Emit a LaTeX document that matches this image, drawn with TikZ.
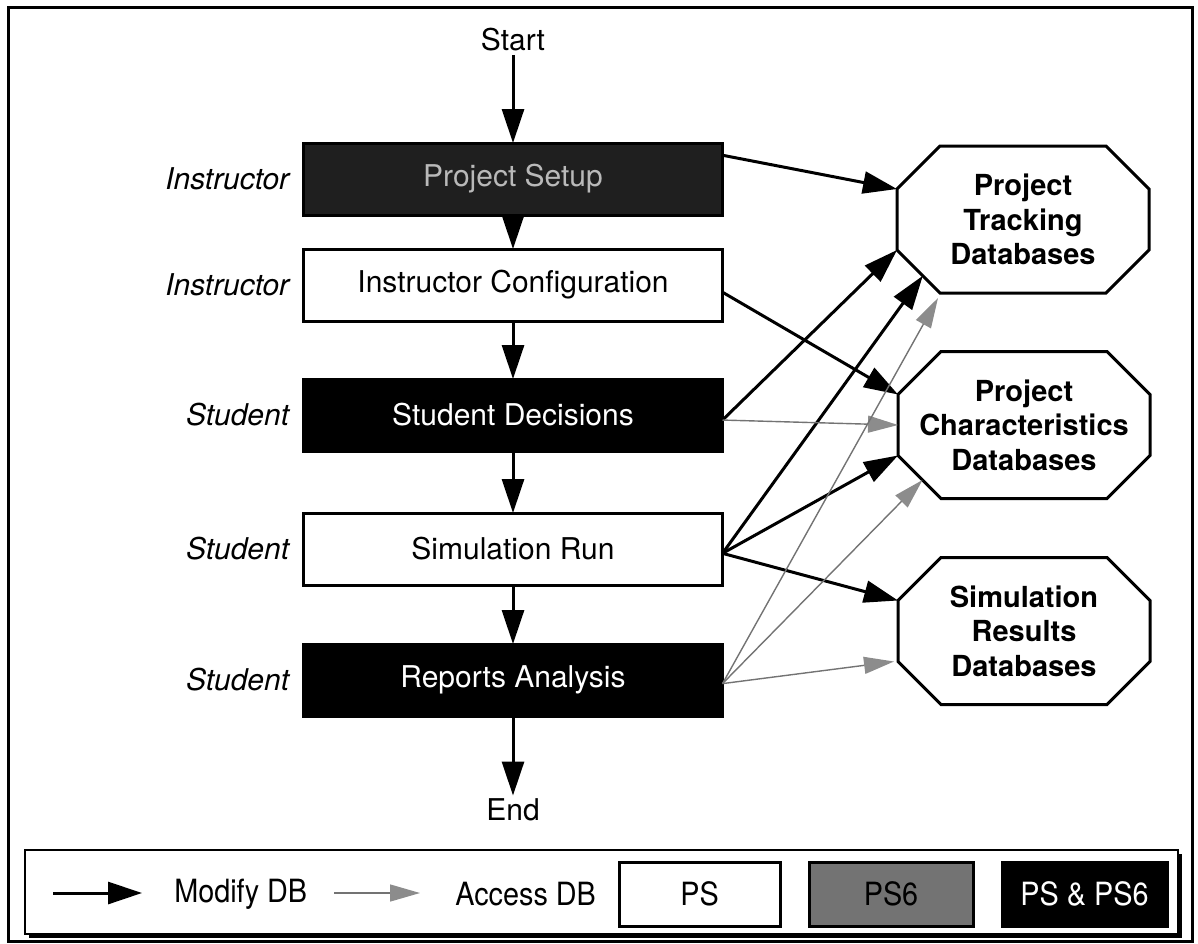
\documentclass[tikz,border=0pt]{standalone}
\usepackage{fontspec}
\setmainfont{TeX Gyre Heros}
\newfontfamily\narrowsans[FakeStretch=0.9]{TeX Gyre Heros}
\usetikzlibrary{arrows.meta,calc}

\tikzset{
  every node/.style={font=\fontsize{30}{35}\selectfont, outer sep=0pt},
  flowbox/.style={draw, line width=3pt, minimum width=419pt, minimum height=72pt, inner sep=0pt},
  whitebox/.style={flowbox, fill=white},
  blackbox/.style={flowbox, fill=black, text=white},
  setupbox/.style={flowbox, fill=black!88, draw=black, text=gray!55},
  role/.style={font=\fontsize{30}{35}\selectfont\itshape, anchor=east},
  dbnode/.style={minimum width=252pt, minimum height=147pt, inner sep=0pt, align=center,
                 font=\fontsize{29}{34.5}\selectfont\bfseries},
  octline/.style={line width=3pt, line join=miter},
  modify/.style={line width=3pt, -{Triangle[length=34pt,width=22pt]}},
  access/.style={line width=1.4pt, draw=black!55, -{Triangle[length=30pt,width=17pt,color=black!45,fill=black!45]}},
  legendtext/.style={font=\narrowsans\fontsize{32}{36}\selectfont, anchor=west},
  keybox/.style={line width=3pt, minimum height=64pt, inner sep=0pt,
                 font=\narrowsans\fontsize{32}{36}\selectfont},
}

% octagonal outline around a database node
\newcommand\octframe[1]{%
  \draw[octline] ($(#1.north west)+(43,0)$) -- ($(#1.north east)+(-43,0)$)
    -- ($(#1.north east)+(0,43)$) -- ($(#1.south east)+(0,-43)$)
    -- ($(#1.south east)+(-43,0)$) -- ($(#1.south west)+(43,0)$)
    -- ($(#1.south west)+(0,-43)$) -- ($(#1.north west)+(0,43)$) -- cycle;
  \coordinate (#1-ul) at ($(#1.north west)+(0,43)$);
  \coordinate (#1-ll) at ($(#1.south west)+(0,-43)$);
  \coordinate (#1-bl) at ($(#1.south west)+(43,0)$);
}

\begin{document}
\begin{tikzpicture}[x=1pt,y=-1pt]
\useasboundingbox (0,0) rectangle (1198,943);

% outer frame
\draw[line width=3pt] (8,7) rectangle (1192,941);

% process column
\node (start) at (513,40) {Start};
\node[setupbox] (ps) at (513,179) {Project Setup};
\node[whitebox] (ic) at (513,285) {Instructor Configuration};
\node[blackbox] (sd) at (513,415) {Student Decisions};
\node[whitebox] (sr) at (513,549) {Simulation Run};
\node[blackbox] (ra) at (513,680) {Reports Analysis};
\node (end) at (513,810) {End};

% roles
\node[role] (r1) at ([xshift=-11pt]ps.west) {Instructor};
\node[role] (r2) at ([xshift=-11pt]ic.west) {Instructor};
\node[role] (r3) at ([xshift=-11pt]sd.west) {Student};
\node[role] (r4) at ([xshift=-11pt]sr.west) {Student};
\node[role] (r5) at ([xshift=-11pt]ra.west) {Student};

% sequence arrows
\draw[modify] (start.south) -- (ps.north);
\draw[modify] (ps.south) -- (ic.north);
\draw[modify] (ic.south) -- (sd.north);
\draw[modify] (sd.south) -- (sr.north);
\draw[modify] (sr.south) -- (ra.north);
\draw[modify] (ra.south) -- (end.north);

% databases
\node[dbnode] (ptdb) at (1023,219.5) {Project\\Tracking\\Databases};
\node[dbnode] (pcdb) at (1024,425) {Project\\Characteristics\\Databases};
\node[dbnode] (srdb) at (1024,631) {Simulation\\Results\\Databases};
\octframe{ptdb}
\octframe{pcdb}
\octframe{srdb}

% exits on the right-hand sides of the boxes
\coordinate (ps-out) at ($(ps.north east)!0.17!(ps.south east)$);
\coordinate (ic-out) at ($(ic.north east)!0.6!(ic.south east)$);
\coordinate (sd-out) at ($(sd.north east)!0.57!(sd.south east)$);
\coordinate (sr-out) at ($(sr.north east)!0.56!(sr.south east)$);
\coordinate (ra-out) at ($(ra.north east)!0.55!(ra.south east)$);

% database modifications
\draw[modify] (ps-out) -- (ptdb-ul);
\draw[modify] (ic-out) -- (pcdb-ul);
\draw[modify] (sd-out) -- (ptdb-ll);
\draw[modify] (sr-out) -- ($(ptdb-ll)!0.6!(ptdb-bl)$);
\draw[modify] (sr-out) -- (pcdb-ll);
\draw[modify] (sr-out) -- (srdb-ul);

% database accesses
\draw[access] (sd-out) -- (pcdb.west);
\draw[access] (ra-out) -- ($(ptdb-bl)+(-2,5)$);
\draw[access] (ra-out) -- ($(pcdb-ll)!0.57!(pcdb-bl)$);
\draw[access] (ra-out) -- ($(srdb-ll)+(-4,0)$);

% legend
\fill (29,854) rectangle (1182,938);
\draw[line width=2.5pt, fill=white] (25,850) rectangle (1178,934);
\coordinate (m1) at (53,893);
\coordinate (m2) at (142,893);
\draw[modify] (m1) -- (m2);
\node[legendtext] (mtext) at (171,894) {Modify DB};
\coordinate (a1) at (334,893);
\coordinate (a2) at (420,893);
\draw[access] (a1) -- (a2);
\node[legendtext] (atext) at (452,894) {Access DB};
\node[keybox, draw, fill=white, minimum width=161pt] (kps) at (699.5,894) {PS};
\node[keybox, draw, fill=black!55, minimum width=164pt] (kps6) at (891,894) {PS6};
\node[keybox, draw, fill=black, text=white, minimum width=165pt] (kboth) at (1084.5,894) {PS \& PS6};
\end{tikzpicture}
\end{document}
